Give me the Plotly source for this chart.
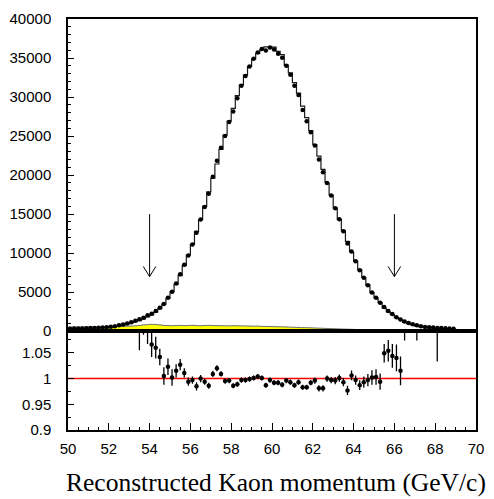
import numpy as np
import plotly.graph_objects as go

# ---------------- data ----------------
bin_lo, bin_hi, bin_w = 50.0, 70.0, 0.2

data_counts = [
    320, 330, 340, 360, 380, 400, 420, 450, 480, 520,
    560, 630, 760, 850, 970, 1140, 1350, 1520, 1730, 2030,
    2240, 2600, 3000, 3500, 4300, 5050, 6100, 7300, 8500, 9700,
    11100, 12600, 14300, 15900, 17600, 19800, 21850, 23500, 25000, 26800,
    28150, 29850, 31450, 32700, 33900, 34900, 35700, 36150, 35950, 36350,
    36100, 35550, 35050, 34000, 32850, 31450, 30250, 28350, 26900, 25500,
    23800, 22000, 20350, 19000, 17400, 15750, 14350, 12800, 11250, 10200,
    8950, 7800, 6850, 5900, 4950, 4300, 3650, 3100, 2600, 2200,
    1800, 1500, 1250, 1050, 900, 750, 620, 540, 500, 460,
    420, 400, 370, 340, 300, None, None, None, None, None,
]

mc_counts = [
    310, 325, 335, 350, 370, 390, 410, 440, 470, 500,
    540, 600, 700, 790, 900, 1050, 1230, 1360, 1560, 1845,
    2100, 2450, 2880, 3480, 4200, 5040, 6010, 7110, 8410, 9760,
    11130, 12790, 14300, 16000, 17850, 19620, 21420, 23290, 25130, 26910,
    28550, 30180, 31550, 32800, 33930, 34900, 35590, 36080, 36420, 36420,
    36390, 35840, 35440, 34100, 33110, 31860, 30490, 28840, 27360, 25700,
    23920, 22430, 20740, 19020, 17450, 15810, 14320, 12880, 11500, 10150,
    8980, 7900, 6880, 5910, 4940, 4280, 3670, 2960, 2470, 2110,
    1730, 1480, 1120, 960, 800, 660, 560, 490, 450, 410,
    340, 360, 330, 300, 270, 200, 150, 100, 60, 30,
]

bkg_counts = [
    520, 540, 530, 550, 540, 560, 540, 550, 570, 560,
    580, 570, 600, 620, 640, 660, 690, 740, 800, 840,
    880, 850, 810, 740, 720, 700, 720, 740, 710, 730,
    750, 720, 700, 730, 740, 720, 710, 700, 690, 680,
    700, 690, 680, 670, 660, 640, 650, 620, 610, 600,
    580, 570, 560, 540, 520, 500, 480, 460, 450, 430,
    410, 390, 370, 350, 330, 310, 290, 270, 260, 240,
    220, 210, 190, 180, 160, 150, 140, 130, 110, 100,
    90, 80, 70, 60, 55, 50, 45, 40, 35, 30,
    28, 26, 24, 22, 20, 18, 16, 14, 12, 10,
]

ratio_x = [
    53.5, 53.7, 53.9, 54.1, 54.3, 54.5, 54.7, 54.9, 55.1, 55.3,
    55.5, 55.7, 55.9, 56.1, 56.3, 56.5, 56.7, 56.9, 57.1, 57.3,
    57.5, 57.7, 57.9, 58.1, 58.3, 58.5, 58.7, 58.9, 59.1, 59.3,
    59.5, 59.7, 59.9, 60.1, 60.3, 60.5, 60.7, 60.9, 61.1, 61.3,
    61.5, 61.7, 61.9, 62.1, 62.3, 62.5, 62.7, 62.9, 63.1, 63.3,
    63.5, 63.7, 63.9, 64.1, 64.3, 64.5, 64.7, 64.9, 65.1, 65.3,
    65.5, 65.7, 65.9, 66.1, 66.3, 66.5, 67.1, 68.1,
]
ratio_vals = [
    1.12, 1.11, 1.10, 1.066, 1.060, 1.042, 1.005, 1.023, 1.002, 1.015,
    1.027, 1.011, 0.994, 0.997, 0.985, 1.000, 0.994, 0.986, 1.009, 1.020,
    1.009, 0.995, 0.996, 0.986, 0.989, 0.997, 0.997, 0.999, 1.001, 1.004,
    1.001, 0.987, 0.997, 0.992, 0.992, 0.988, 0.996, 0.993, 0.987, 0.993,
    0.983, 0.983, 0.992, 0.996, 0.981, 0.981, 1.000, 0.997, 0.996, 1.001,
    0.993, 0.977, 1.006, 0.997, 0.987, 0.993, 0.997, 1.002, 1.003, 0.994,
    1.049, 1.054, 1.044, 1.040, 1.015, 1.12, 1.14, 1.25,
]
ratio_errs = [
    0.065, 0.025, 0.033, 0.024, 0.021, 0.016, 0.017, 0.016, 0.016, 0.013,
    0.011, 0.009, 0.008, 0.007, 0.008, 0.007, 0.006, 0.006, 0.006, 0.006,
    0.005, 0.005, 0.005, 0.005, 0.005, 0.005, 0.005, 0.005, 0.005, 0.005,
    0.005, 0.005, 0.005, 0.005, 0.005, 0.005, 0.005, 0.005, 0.005, 0.005,
    0.005, 0.005, 0.005, 0.006, 0.006, 0.006, 0.006, 0.006, 0.007, 0.007,
    0.008, 0.009, 0.0095, 0.009, 0.0095, 0.011, 0.012, 0.014, 0.015, 0.016,
    0.018, 0.021, 0.023, 0.026, 0.028, 0.046, 0.066, 0.217,
]

arrow_x = [54.0, 66.0]
arrow_top = 15000
arrow_tip = 7000

x_title = "Reconstructed Kaon momentum (GeV/c)"

# ---------------- derived ----------------
n_bins = len(data_counts)
edges = bin_lo + bin_w * np.arange(n_bins + 1)
centers = edges[:-1] + bin_w / 2
mc_step = list(mc_counts) + [mc_counts[-1]]
bkg_step = list(bkg_counts) + [bkg_counts[-1]]

fig = go.Figure()

# background (yellow filled histogram)
fig.add_trace(go.Scatter(
    x=edges, y=bkg_step, mode="lines", line_shape="hv",
    line=dict(color="#6e6e6e", width=1), fill="tozeroy", fillcolor="#ffff00",
    xaxis="x", yaxis="y", showlegend=False, hoverinfo="skip"))

# MC step histogram
fig.add_trace(go.Scatter(
    x=edges, y=mc_step, mode="lines", line_shape="hv",
    line=dict(color="#1a1a1a", width=1.2),
    xaxis="x", yaxis="y", showlegend=False))

# data points
fig.add_trace(go.Scatter(
    x=centers, y=data_counts, mode="markers",
    marker=dict(color="black", size=4.5),
    xaxis="x", yaxis="y", showlegend=False))

# arrows
ax, ay = [], []
head_dx, head_dy = 0.31, 1300
for xa in arrow_x:
    ax += [xa, xa, None, xa - head_dx, xa, xa + head_dx, None]
    ay += [arrow_top, arrow_tip, None, arrow_tip + head_dy, arrow_tip, arrow_tip + head_dy, None]
fig.add_trace(go.Scatter(x=ax, y=ay, mode="lines", line=dict(color="black", width=1),
                         xaxis="x", yaxis="y", showlegend=False, hoverinfo="skip"))

# ratio: reference line at 1
fig.add_trace(go.Scatter(
    x=[bin_lo, bin_hi], y=[1, 1], mode="lines", line=dict(color="red", width=1.5),
    xaxis="x2", yaxis="y2", showlegend=False, hoverinfo="skip"))

# ratio points
fig.add_trace(go.Scatter(
    x=ratio_x, y=ratio_vals, mode="markers",
    marker=dict(color="black", size=4.5),
    error_y=dict(type="data", array=ratio_errs, color="black", thickness=1.3, width=0),
    xaxis="x2", yaxis="y2", showlegend=False))

tickfont = dict(family="Liberation Sans, Arial, sans-serif", size=15, color="black")
split = 0.2404

fig.update_layout(
    width=494, height=499,
    margin=dict(l=68, r=10, t=14, b=69),
    paper_bgcolor="white", plot_bgcolor="white",
    xaxis=dict(domain=[0, 1], anchor="y", range=[bin_lo, bin_hi],
               showline=True, mirror=True, linecolor="black", linewidth=1.5,
               showgrid=False, zeroline=False, showticklabels=False, ticks=""),
    yaxis=dict(domain=[split, 1], anchor="x", range=[0, 40000],
               showline=True, mirror=True, linecolor="black", linewidth=1.5,
               showgrid=False, zeroline=False,
               ticks="inside", ticklen=6, tickwidth=1, tickcolor="black",
               tick0=0, dtick=5000, tickformat="d", tickfont=tickfont,
               ticklabelstandoff=12,
               minor=dict(ticks="inside", ticklen=3, dtick=1000, tickcolor="black",
                          showgrid=False)),
    xaxis2=dict(domain=[0, 1], anchor="y2", range=[bin_lo, bin_hi],
                showline=True, mirror=True, linecolor="black", linewidth=1.5,
                showgrid=False, zeroline=False,
                ticks="inside", ticklen=7, tickwidth=1, tickcolor="black",
                tick0=50, dtick=2, tickfont=tickfont, ticklabelstandoff=4,
                minor=dict(ticks="inside", ticklen=3.5, dtick=0.5, tickcolor="black",
                           showgrid=False)),
    yaxis2=dict(domain=[0, split], anchor="x2", range=[0.9, 1.092],
                showline=True, mirror=True, linecolor="black", linewidth=1.5,
                showgrid=False, zeroline=False,
                ticks="inside", ticklen=6, tickwidth=1, tickcolor="black",
                tickvals=[0.9, 0.95, 1.0, 1.05], ticktext=["0.9", "0.95", "1", "1.05"],
                tickfont=tickfont, ticklabelstandoff=12,
                minor=dict(ticks="inside", ticklen=3, tick0=0.9, dtick=0.025,
                           tickcolor="black", showgrid=False)),
    annotations=[dict(text=x_title, xref="paper", yref="paper", x=0.51, y=-0.127,
                      xanchor="center", yanchor="middle", showarrow=False,
                      font=dict(family="Liberation Serif, Times New Roman, serif",
                                size=25.5, color="black"))],
)

fig.write_html("out.html")
